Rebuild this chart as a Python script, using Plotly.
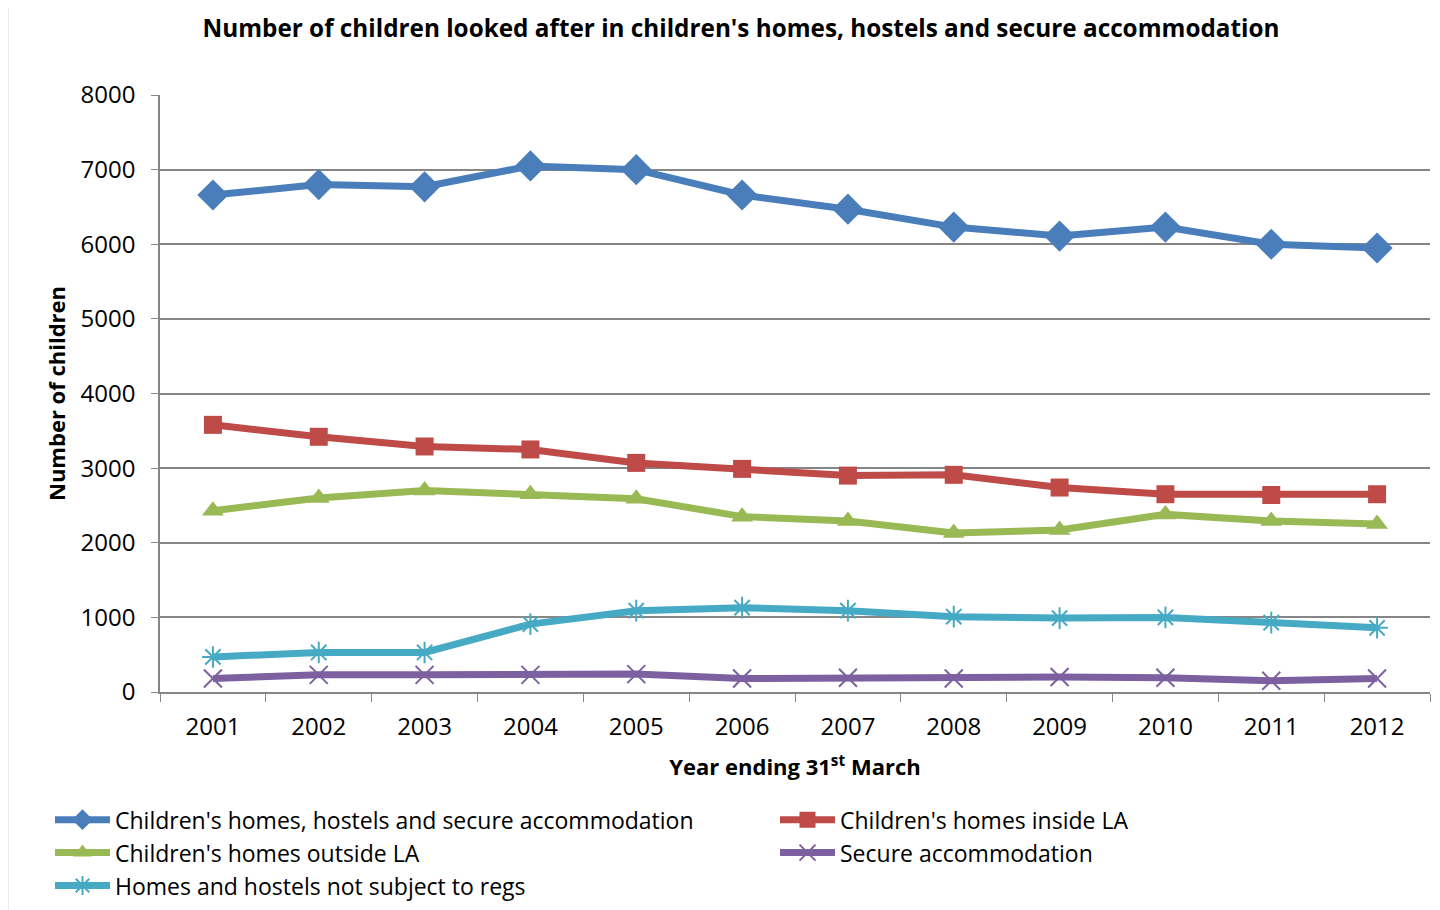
import plotly.graph_objects as go

years = ["2001", "2002", "2003", "2004", "2005", "2006", "2007", "2008", "2009", "2010", "2011", "2012"]
total = [6660, 6800, 6770, 7050, 7000, 6660, 6470, 6230, 6110, 6230, 6000, 5950]
inside_la = [3580, 3420, 3290, 3250, 3070, 2990, 2900, 2910, 2740, 2650, 2640, 2650]
outside_la = [2430, 2600, 2700, 2650, 2590, 2350, 2290, 2130, 2170, 2380, 2290, 2250]
secure = [180, 230, 230, 230, 240, 180, 190, 180, 200, 190, 150, 180]
not_regs = [470, 530, 530, 910, 1090, 1130, 1090, 1010, 990, 1000, 930, 860]

series = [
    ("Children's homes, hostels and secure accommodation", total, "#4A7EBB", "diamond", 24, 0, "legend"),
    ("Children's homes inside LA", inside_la, "#BE4B48", "square", 18, 0, "legend2"),
    ("Children's homes outside LA", outside_la, "#98B954", "triangle-up", 19, 0, "legend"),
    ("Secure accommodation", secure, "#7D60A0", "x-thin-open", 18, 2, "legend2"),
    ("Homes and hostels not subject to regs", not_regs, "#46AAC5", "asterisk-open", 18, 2, "legend"),
]

FONT = "Open Sans"
fig = go.Figure()
for name, vals, col, sym, size, lw, leg in series:
    fig.add_trace(go.Scatter(
        x=years, y=vals, name=name, mode="lines+markers", legend=leg, legendgroup=name,
        line=dict(color=col, width=7),
        marker=dict(symbol=sym, size=size, color=col, line=dict(color=col, width=lw)),
    ))

leg_common = dict(orientation="v", xanchor="left", y=-0.178, yanchor="top",
                  itemwidth=55, font=dict(family=FONT, size=23), tracegroupgap=5,
                  traceorder="normal", bgcolor="rgba(0,0,0,0)")

fig.update_layout(
    width=1440, height=910,
    paper_bgcolor="white", plot_bgcolor="white",
    margin=dict(l=152, r=18, t=87, b=226, autoexpand=False),
    font=dict(family=FONT, size=22, color="black"),
    title=dict(text="<b>Number of children looked after in children's homes, hostels and secure accommodation</b>",
               x=0.509, xanchor="center", y=0.977, yanchor="middle",
               font=dict(family=FONT, size=24.3, color="black")),
    showlegend=True,
    legend=dict(x=(50 - 160) / 1270, **leg_common),
    legend2=dict(x=(775 - 160) / 1270, **leg_common),
    xaxis=dict(type="category", range=[-0.5, len(years) - 0.5], tickson="boundaries",
               ticks="outside", ticklen=8,
               tickcolor="#868686", showline=True, linecolor="#868686", linewidth=1.5,
               showgrid=False, tickfont=dict(size=24), ticklabelstandoff=12,
               title=dict(text="<b>Year ending 31<sup>st</sup> March</b>", standoff=19,
                          font=dict(size=22))),
    yaxis=dict(range=[0, 8000], dtick=1000, ticks="outside", ticklen=7, tickcolor="#868686",
               showline=True, linecolor="#868686", linewidth=1.5,
               gridcolor="#868686", gridwidth=1.5, zeroline=False,
               tickfont=dict(size=24), ticklabelstandoff=11,
               title=dict(text="<b>Number of children</b>", standoff=9, font=dict(size=22))),
    shapes=[dict(type="rect", xref="paper", yref="paper",
                 x0=(8 - 160) / 1270, x1=(1460 - 160) / 1270,
                 y0=(692 - 930) / 597, y1=(692 + 20) / 597,
                 line=dict(color="#D9D9D9", width=1), layer="below")],
)

fig.write_html("out.html")
